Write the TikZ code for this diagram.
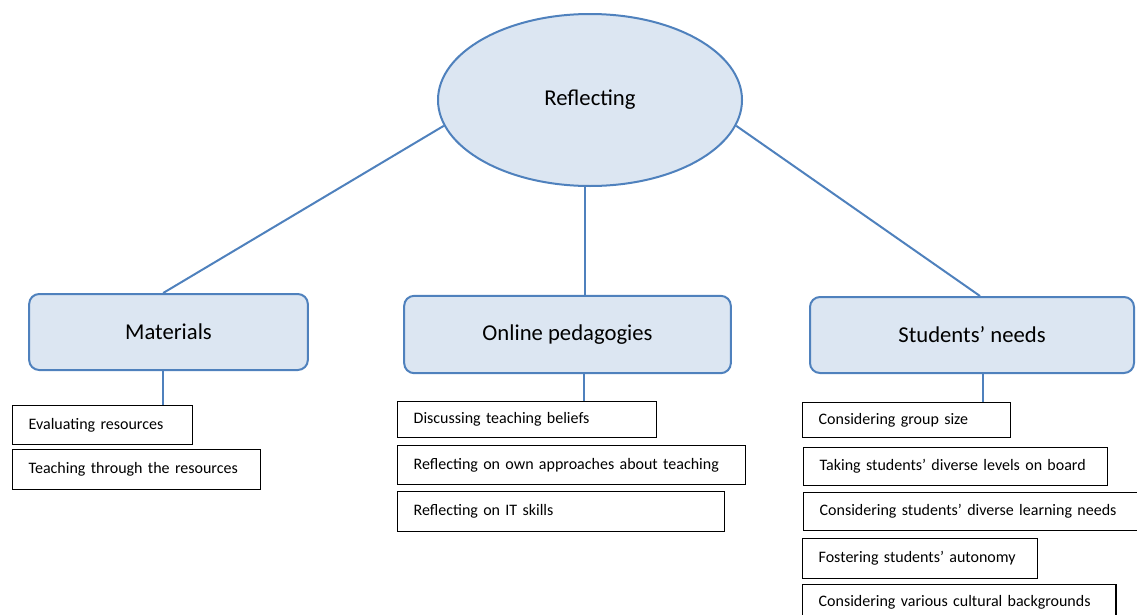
\documentclass[tikz,border=0pt]{standalone}
\usepackage{fontspec}
\setmainfont{Carlito}
\usetikzlibrary{shapes.geometric}
\definecolor{boxblue}{HTML}{DCE6F2}
\definecolor{lineblue}{HTML}{4F81BD}

\begin{document}
\begin{tikzpicture}[x=0.75pt,y=-0.75pt]

        \useasboundingbox (0,0) rectangle (1137,614);
        \clip (0,0) rectangle (1137,614);

        % main idea and the three themes
        \begin{scope}[every node/.style={draw=lineblue,fill=boxblue,line width=1.5pt,
                      font=\fontsize{17}{20}\selectfont}]
          \node[ellipse,minimum width=228pt,minimum height=129pt,inner sep=0pt] (ref) at (590,100) {Reflecting};
          \node[rounded corners=7.5pt,minimum width=209pt,minimum height=57pt] (mat) at (168.5,332)  {Materials};
          \node[rounded corners=7.5pt,minimum width=245pt,minimum height=58pt] (onl) at (567.5,334.5) {Online pedagogies};
          \node[rounded corners=7.5pt,minimum width=243pt,minimum height=57pt] (stu) at (972,335)    {Students' needs};
        \end{scope}

        % sub points
        \begin{scope}[every node/.style={draw=black,fill=white,line width=1pt,anchor=north west,
                      align=left,inner xsep=12pt,inner ysep=0pt,font=\fontsize{12}{14}\selectfont}]
          \node[text width=111pt,minimum height=29pt] (ev) at (12,405)  {Evaluating resources};
          \node[text width=162pt,minimum height=30pt] (te) at (12,449)  {Teaching through the resources};

          \node[text width=170pt,minimum height=27pt] (di) at (397,401) {Discussing teaching beliefs};
          \node[text width=237pt,minimum height=29pt] (ro) at (397,445) {Reflecting on own approaches about teaching};
          \node[text width=221pt,minimum height=30pt] (ri) at (397,491) {Reflecting on IT skills};

          \node[text width=132pt,minimum height=26pt] (gs) at (802,402) {Considering group size};
          \node[text width=204pt,minimum height=28.5pt] (ta) at (803,447) {Taking students' diverse levels on board};
          \node[text width=231pt,minimum height=28.5pt] (cl) at (803,492) {Considering students' diverse learning needs};
          \node[text width=152pt,minimum height=30pt] (fo) at (802,538) {Fostering students' autonomy};
          \node[text width=211pt,minimum height=27pt] (cv) at (802,584) {Considering various cultural backgrounds};
        \end{scope}

        \begin{scope}[every edge/.style={draw=lineblue,line width=1.5pt}]
          \path (ref.190) edge ([xshift=-4pt]mat.north);
          \path ([xshift=-4pt]ref.south) edge ([xshift=-4pt]ref.south |- onl.north);
          \path (ref.350) edge ([xshift=6pt]stu.north);
          \path ([xshift=-4pt]mat.south) edge ([xshift=-4pt]mat.south |- ev.north);
          \path ([xshift=12pt]onl.south) edge ([xshift=12pt]onl.south |- di.north);
          \path ([xshift=8pt]stu.south)  edge ([xshift=8pt]stu.south |- gs.north);
        \end{scope}

      \end{tikzpicture}
\end{document}
